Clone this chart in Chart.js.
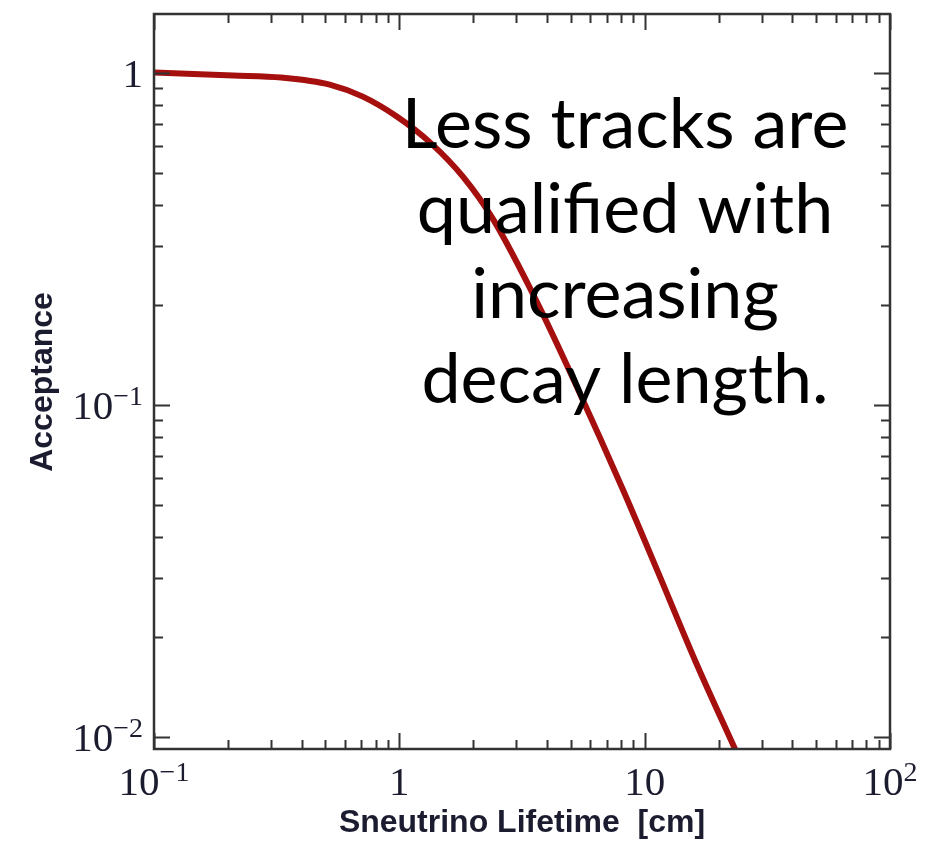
<!DOCTYPE html>
<html>
<head>
<meta charset="utf-8">
<script src="https://cdn.jsdelivr.net/npm/chart.js@4.4.1/dist/chart.umd.min.js"></script>
<style>
  html, body { margin: 0; padding: 0; background: #fff; }
  #grafico { display: block; }
</style>
</head>
<body>
<canvas id="grafico" width="938" height="851"></canvas>
<script>
// curva de aceptancia vs vida media del sneutrino
var lifetime   = [0.1, 0.21, 0.33, 0.52, 0.71, 0.98, 1.34, 1.82, 2.42, 3.66, 5.33, 8.2, 11.3, 16.1, 23.5];
var acceptance = [1.0, 0.98, 0.966, 0.92, 0.846, 0.736, 0.614, 0.485, 0.36, 0.202, 0.112, 0.055, 0.0315, 0.0169, 0.0091];

var xTicks = [0.1, 1, 10, 100];
var xTickLabels = [['10', '\u22121'], ['1', ''], ['10', ''], ['10', '2']];
var yTicks = [0.01, 0.1, 1];
var yTickLabels = [['10', '\u22122'], ['10', '\u22121'], ['1', '']];

var xTitle = 'Sneutrino Lifetime  [cm]';
var yTitle = 'Acceptance';
var nota = ['Less tracks are', 'qualified with', 'increasing', 'decay length.'];

var colorEje = '#333333';
var colorTexto = '#1c1c30';

function texto_potencia(ctx, base, exp, x, y, align)
{
    ctx.font = '41px "Liberation Serif"';
    var wb = ctx.measureText(base).width;
    ctx.font = '28px "Liberation Serif"';
    var we = exp ? ctx.measureText(exp).width : 0;
    var total = wb + we;
    var x0 = align == 'right' ? x - total : x - total / 2;
    ctx.textAlign = 'left';
    ctx.textBaseline = 'alphabetic';
    ctx.fillStyle = colorTexto;
    ctx.font = '41px "Liberation Serif"';
    ctx.fillText(base, x0, y);
    if (exp) {
        ctx.font = '28px "Liberation Serif"';
        ctx.fillText(exp, x0 + wb, y - 14);
    }
}

// marcas hacia adentro en los cuatro lados, mayores y menores
function dibujar_marcas(ctx, area, sx, sy)
{
    ctx.strokeStyle = colorEje;
    ctx.lineWidth = 2;
    ctx.beginPath();
    var d, k, v, px, largo;
    for (d = 0; d < xTicks.length; d++) {
        for (k = 1; k <= 9; k++) {
            v = xTicks[d] * k;
            if (v < sx.min || v > sx.max) continue;
            if (k > 1 && d == xTicks.length - 1) continue;
            px = Math.round(sx.getPixelForValue(v)) + 0.5;
            largo = k == 1 ? 16 : 9;
            ctx.moveTo(px, area.bottom);
            ctx.lineTo(px, area.bottom - largo);
            ctx.moveTo(px, area.top);
            ctx.lineTo(px, area.top + largo);
        }
    }
    for (d = 0; d < yTicks.length; d++) {
        for (k = 1; k <= 9; k++) {
            v = yTicks[d] * k;
            if (v < sy.min || v > sy.max) continue;
            px = Math.round(sy.getPixelForValue(v)) + 0.5;
            largo = k == 1 ? 16 : 9;
            ctx.moveTo(area.left, px);
            ctx.lineTo(area.left + largo, px);
            ctx.moveTo(area.right, px);
            ctx.lineTo(area.right - largo, px);
        }
    }
    ctx.stroke();
}

var marcoPlugin = {
    id: 'marco',
    afterDraw: function (chart)
    {
        var ctx = chart.ctx;
        var area = chart.chartArea;
        var sx = chart.scales.x;
        var sy = chart.scales.y;
        var i;

        ctx.save();
        ctx.strokeStyle = colorEje;
        ctx.lineWidth = 2.5;
        ctx.strokeRect(area.left, area.top, area.right - area.left, area.bottom - area.top);
        dibujar_marcas(ctx, area, sx, sy);

        for (i = 0; i < xTicks.length; i++) {
            texto_potencia(ctx, xTickLabels[i][0], xTickLabels[i][1], sx.getPixelForValue(xTicks[i]), area.bottom + 46, 'center');
        }
        for (i = 0; i < yTicks.length; i++) {
            texto_potencia(ctx, yTickLabels[i][0], yTickLabels[i][1], area.left - 11, sy.getPixelForValue(yTicks[i]) + 14, 'right');
        }

        ctx.fillStyle = colorTexto;
        ctx.font = 'bold 32px "Liberation Sans"';
        ctx.textAlign = 'center';
        ctx.textBaseline = 'alphabetic';
        ctx.fillText(xTitle, (area.left + area.right) / 2, 832);

        ctx.save();
        ctx.translate(52, 382);
        ctx.rotate(-Math.PI / 2);
        ctx.fillText(yTitle, 0, 0);
        ctx.restore();

        // nota sobre la curva
        ctx.fillStyle = '#000';
        ctx.font = '70px Lato';
        for (i = 0; i < nota.length; i++) {
            ctx.fillText(nota[i], 625, 148 + i * 85);
        }
        ctx.restore();
    }
};

var puntos = [];
for (var i = 0; i < lifetime.length; i++) {
    puntos.push({ x: lifetime[i], y: acceptance[i] });
}

var grafico = new Chart(document.getElementById('grafico'), {
    type: 'line',
    data: {
        datasets: [{
            data: puntos,
            borderColor: '#a50f0e',
            borderWidth: 6,
            pointRadius: 0,
            cubicInterpolationMode: 'monotone',
            fill: false
        }]
    },
    options: {
        responsive: false,
        animation: false,
        layout: { padding: { left: 154, right: 48, top: 14, bottom: 102 } },
        plugins: { legend: { display: false }, tooltip: { enabled: false } },
        scales: {
            x: { type: 'logarithmic', min: 0.1, max: 100, display: false },
            y: { type: 'logarithmic', min: 0.0092, max: 1.5, display: false }
        }
    },
    plugins: [marcoPlugin]
});
</script>
</body>
</html>
